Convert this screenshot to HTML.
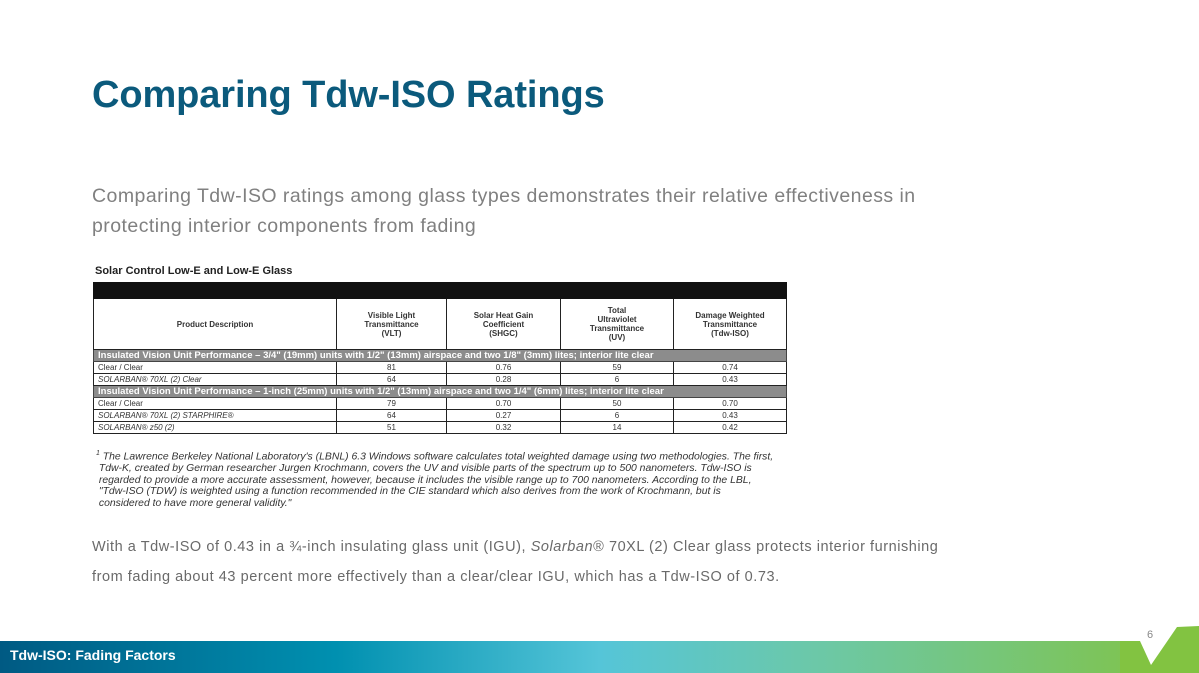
<!DOCTYPE html>
<html><head><meta charset="utf-8"><style>
body{margin:0;width:1199px;height:673px;overflow:hidden;background:#fff;font-family:"Liberation Sans",sans-serif;position:relative}
.abs{position:absolute}
#title{left:92px;top:74px;font-size:38px;font-weight:bold;color:#0b5a7c;letter-spacing:-0.1px}
.sub{left:92px;font-size:19.5px;color:#808080;letter-spacing:0.45px;white-space:nowrap}
.body{left:92px;font-size:14.5px;color:#6a6a6a;letter-spacing:0.55px;white-space:nowrap}
table{border-collapse:collapse;position:absolute;left:93px;top:282px;width:693px;table-layout:fixed}
td{border:1px solid #222;font-size:8px;padding:0 4px;height:11px;line-height:11px;color:#333;text-align:center}
td.d{text-align:left;font-style:italic}
tr.blk td{background:#111;height:15px;border:1px solid #111}
tr.hd td{height:50px;font-weight:bold;font-size:8px;line-height:9px;border-top:none}
tr.sec td{background:#8c8c8c;color:#fff;font-weight:bold;text-align:left;font-size:9.5px;height:11px;border:1px solid #444}
#foot{left:96px;top:448px;font-size:10.5px;line-height:11.5px;font-style:italic;color:#333;transform:scaleX(0.99);transform-origin:left top;width:800px;white-space:nowrap}
#bar{left:0;top:641px;width:1199px;height:32px;background:linear-gradient(90deg,#005a83 0%,#0090b0 28%,#55c5d8 50%,#6cc8a8 68%,#82c341 100%)}
#bartext{left:10px;top:647px;font-size:14px;font-weight:bold;color:#fff}
</style></head><body>
<div id="title" class="abs">Comparing Tdw-ISO Ratings</div>
<div class="abs sub" style="top:185px">Comparing Tdw-ISO ratings among glass types demonstrates their relative effectiveness in</div>
<div class="abs sub" style="top:215px">protecting interior components from fading</div>
<div class="abs" style="left:95px;top:265px;font-size:11px;font-weight:bold;color:#222">Solar Control Low-E and Low-E Glass</div>
<table>
<colgroup><col style="width:243px"><col style="width:110px"><col style="width:114px"><col style="width:113px"><col style="width:113px"></colgroup>
<tr class="blk"><td colspan="5"></td></tr>
<tr class="hd"><td>Product Description</td><td>Visible Light<br>Transmittance<br>(VLT)</td><td>Solar Heat Gain<br>Coefficient<br>(SHGC)</td><td>Total<br>Ultraviolet<br>Transmittance<br>(UV)</td><td>Damage Weighted<br>Transmittance<br>(Tdw-ISO)</td></tr>
<tr class="sec"><td colspan="5">Insulated Vision Unit Performance – 3/4" (19mm) units with 1/2" (13mm) airspace and two 1/8" (3mm) lites; interior lite clear</td></tr>
<tr><td class="d" style="font-style:normal">Clear / Clear</td><td>81</td><td>0.76</td><td>59</td><td>0.74</td></tr>
<tr><td class="d">SOLARBAN® 70XL (2) Clear</td><td>64</td><td>0.28</td><td>6</td><td>0.43</td></tr>
<tr class="sec"><td colspan="5">Insulated Vision Unit Performance – 1-inch (25mm) units with 1/2" (13mm) airspace and two 1/4" (6mm) lites; interior lite clear</td></tr>
<tr><td class="d" style="font-style:normal">Clear / Clear</td><td>79</td><td>0.70</td><td>50</td><td>0.70</td></tr>
<tr><td class="d">SOLARBAN® 70XL (2) STARPHIRE®</td><td>64</td><td>0.27</td><td>6</td><td>0.43</td></tr>
<tr><td class="d">SOLARBAN® z50 (2)</td><td>51</td><td>0.32</td><td>14</td><td>0.42</td></tr>
</table>
<div id="foot" class="abs"><sup style="font-size:7px">1</sup> The Lawrence Berkeley National Laboratory's (LBNL) 6.3 Windows software calculates total weighted damage using two methodologies. The first,<br>&nbsp;Tdw-K, created by German researcher Jurgen Krochmann, covers the UV and visible parts of the spectrum up to 500 nanometers. Tdw-ISO is<br>&nbsp;regarded to provide a more accurate assessment, however, because it includes the visible range up to 700 nanometers. According to the LBL,<br>&nbsp;"Tdw-ISO (TDW) is weighted using a function recommended in the CIE standard which also derives from the work of Krochmann, but is<br>&nbsp;considered to have more general validity."</div>
<div class="abs body" style="top:539px">With a Tdw-ISO of 0.43 in a ¾-inch insulating glass unit (IGU), <i>Solarban</i>® 70XL (2) Clear glass protects interior furnishing</div>
<div class="abs body" style="top:569px">from fading about 43 percent more effectively than a clear/clear IGU, which has a Tdw-ISO of 0.73.</div>
<div class="abs" style="left:1147px;top:629px;font-size:11px;color:#888">6</div>
<div id="bar" class="abs"></div>
<svg class="abs" style="left:1120px;top:620px" width="79" height="53"><rect x="18" y="20" width="45" height="33" fill="#fff"/><polygon points="0,21 20,21 31,45 57,7 79,6 79,53 0,53" fill="#82c341"/></svg>
<div id="bartext" class="abs">Tdw-ISO: Fading Factors</div>
</body></html>
